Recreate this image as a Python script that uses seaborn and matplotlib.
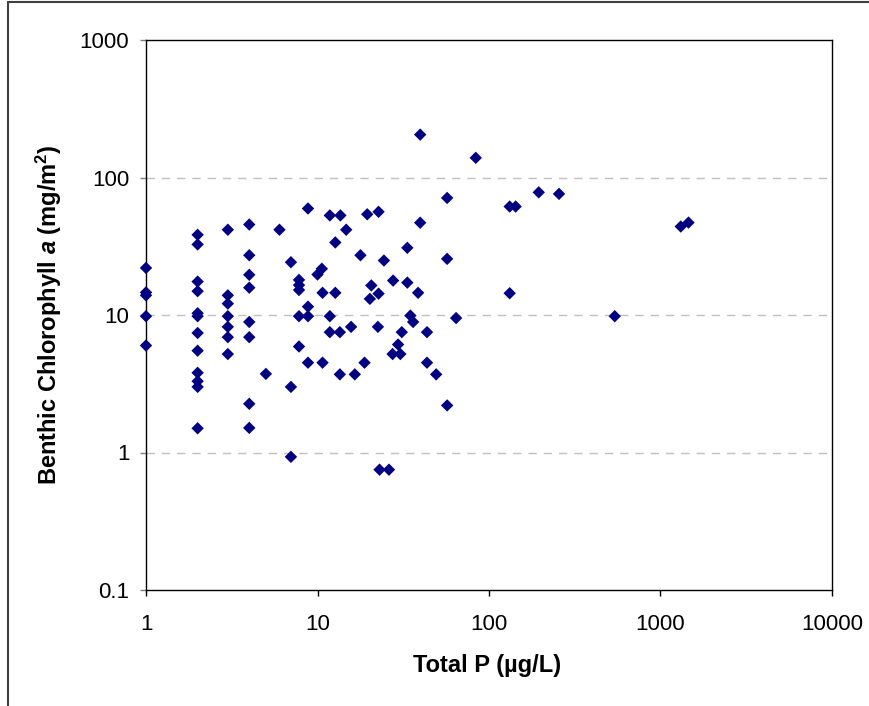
import matplotlib
matplotlib.use("Agg")
import matplotlib.pyplot as plt
import matplotlib.ticker as mticker
from matplotlib.lines import Line2D
import pandas as pd
import seaborn as sns

# values
total_p = [
    1, 1, 1, 1, 1,
    2, 2, 2, 2, 2, 2, 2, 2, 2, 2, 2, 2,
    3, 3, 3, 3, 3, 3, 3,
    4, 4, 4, 4, 4, 4, 4, 4,
    5, 6, 7, 7, 7,
    7.8, 7.8, 7.8, 7.8, 7.8,
    8.8, 8.8, 8.8, 8.8,
    10, 10.6, 10.7, 10.7,
    11.8, 11.8, 11.8,
    12.7, 12.7,
    13.6, 13.5, 13.5,
    14.7, 15.7, 16.5, 17.8, 18.8,
    19.5, 20.2, 20.6,
    22.7, 22.7, 22.5, 23,
    24.4, 26.1,
    27.6, 27.4, 29.5, 30.4, 31,
    33.4, 33.4, 34.8, 36.1,
    38.6, 39.7, 39.7,
    43.5, 43.5, 49.2,
    57, 57, 57, 64.3,
    83.7,
    132, 143, 132,
    195, 256,
    541,
    1313, 1456,
]
chl_a = [
    22, 14.6, 13.9, 9.8, 6.0,
    38.3, 32.6, 17.5, 14.9, 10.3, 9.8, 7.4, 5.5, 3.8, 3.3, 3.0, 1.5,
    41.7, 13.9, 12.1, 9.8, 8.2, 6.9, 5.2,
    45.5, 27.2, 19.6, 15.8, 8.9, 6.9, 2.26, 1.51,
    3.73, 41.7, 24.2, 3.0, 0.93,
    18.0, 16.5, 15.2, 9.8, 5.9,
    59.5, 11.5, 9.8, 4.5,
    19.7, 21.7, 14.5, 4.5,
    53, 9.8, 7.5,
    33.7, 14.5,
    53, 7.5, 3.7,
    41.7, 8.2, 3.7, 27.2, 4.5,
    54, 13.1, 16.4,
    56.3, 14.3, 8.2, 0.75,
    24.9, 0.75,
    17.8, 5.2, 6.1, 5.2, 7.5,
    30.8, 17.2, 9.9, 8.9,
    14.5, 205, 46.9,
    7.5, 4.5, 3.7,
    71, 25.6, 2.2, 9.5,
    139,
    61.5, 61.5, 14.4,
    78, 76,
    9.8,
    44, 47,
]
x_ticks = [1, 10, 100, 1000, 10000]
x_labels = ["1", "10", "100", "1000", "10000"]
y_ticks = [0.1, 1, 10, 100, 1000]
y_labels = ["0.1", "1", "10", "100", "1000"]

df = pd.DataFrame({"total_p": total_p, "chl_a": chl_a})

sns.set_style("white")
plt.rcParams["font.family"] = ["Liberation Sans", "DejaVu Sans"]
plt.rcParams["text.color"] = "black"
plt.rcParams["axes.labelcolor"] = "black"
plt.rcParams["mathtext.fontset"] = "custom"
plt.rcParams["mathtext.rm"] = "Liberation Sans:bold"
plt.rcParams["mathtext.bf"] = "Liberation Sans:bold"
plt.rcParams["mathtext.it"] = "Liberation Sans:bold:italic"

W, H = 870, 706
fig = plt.figure(figsize=(W / 100, H / 100), dpi=100)
ax = fig.add_axes([146 / W, 1 - 590 / H, (832 - 146) / W, (590 - 40) / H])

sns.scatterplot(data=df, x="total_p", y="chl_a", marker="D", s=40,
                color="#000080", edgecolor="none", linewidth=0,
                clip_on=False, zorder=5, ax=ax, legend=False)

ax.set_xscale("log")
ax.set_yscale("log")
ax.set_xlim(1, 10000)
ax.set_ylim(0.1, 1000)
ax.xaxis.set_major_locator(mticker.FixedLocator(x_ticks))
ax.xaxis.set_major_formatter(mticker.FixedFormatter(x_labels))
ax.yaxis.set_major_locator(mticker.FixedLocator(y_ticks))
ax.yaxis.set_major_formatter(mticker.FixedFormatter(y_labels))
ax.xaxis.set_minor_locator(mticker.NullLocator())
ax.yaxis.set_minor_locator(mticker.NullLocator())

ax.tick_params(axis="x", direction="out", length=4, width=1, color="black",
               labelcolor="black", pad=13, labelsize=16, bottom=True)
ax.tick_params(axis="y", direction="out", length=4, width=1, color="#808080",
               labelcolor="black", pad=8, labelsize=16, left=True)

ax.grid(False)
for yv in y_ticks[1:-1]:
    ax.axhline(yv, color="#c0c0c0", linewidth=1, linestyle=(0, (6, 5)), zorder=1)

for side in ["left", "bottom", "top", "right"]:
    ax.spines[side].set_visible(True)
    ax.spines[side].set_color("black")
    ax.spines[side].set_linewidth(1)

ax.set_xlabel("Total P (µg/L)", fontsize=17, fontweight="bold", color="black")
ax.set_ylabel(r"Benthic Chlorophyll $\it{a}$ (mg/m$^{2}$)", fontsize=17,
              fontweight="bold", color="black")
ax.xaxis.set_label_coords(0.497, -0.117)
ax.yaxis.set_label_coords(-0.12, 0.5)

# outer chart-area border (only top and left visible in the original)
fig.add_artist(Line2D([8 / W, 8 / W], [0, 1 - 2 / H], transform=fig.transFigure,
                      color="#404040", linewidth=1.5))
fig.add_artist(Line2D([8 / W, 1], [1 - 2 / H, 1 - 2 / H], transform=fig.transFigure,
                      color="#404040", linewidth=1.5))

fig.savefig("out.png", dpi=100)
